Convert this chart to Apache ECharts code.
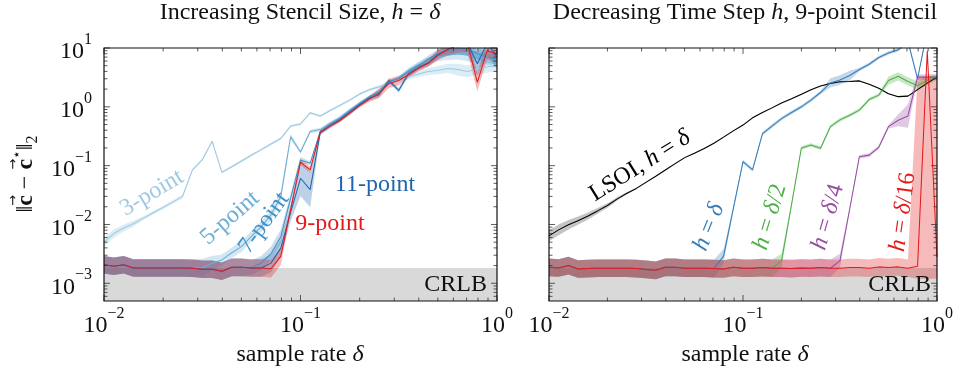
<!DOCTYPE html>
<html>
<head>
<meta charset="utf-8">
<script src="https://cdn.jsdelivr.net/npm/echarts@6/dist/echarts.min.js"></script>
<style>
  html, body { margin: 0; padding: 0; background: #fff; }
  #main { width: 956px; height: 371px; }
</style>
</head>
<body>
<div id="main"></div>
<script>
// sample rates (x)
var delta = [0.01, 0.0112, 0.0126, 0.0141, 0.0158, 0.0178, 0.02, 0.0224, 0.0251, 0.0282, 0.0316, 0.0355, 0.0398, 0.0447, 0.0501, 0.0562, 0.0631, 0.0708, 0.0794, 0.0891,
             0.1, 0.112, 0.126, 0.141, 0.158, 0.178, 0.2, 0.224, 0.251, 0.282, 0.316, 0.355, 0.398, 0.447, 0.501, 0.562, 0.631, 0.708, 0.794, 0.891, 1];

// left panel: increasing stencil size
var pt3 = [0.005, 0.007, 0.0087, 0.0103, 0.0127, 0.0158, 0.0195, 0.024, 0.03, 0.085, 0.125, 0.26, 0.077, 0.096, 0.12, 0.15, 0.187, 0.233, 0.29, 0.47,
           0.51, 0.79, 0.7, 0.86, 1.05, 1.3, 1.65, 1.95, 2.2, 2.5, 2.9, 3.2, 3.6, 4.0, 4.2, 4.5, 4.3, 4.0, 4.4, 4.8, 5.0];
var pt5 = [0.00207, 0.00195, 0.00207, 0.00182, 0.00182, 0.00182, 0.00182, 0.00182, 0.00182, 0.0018, 0.00185, 0.0022, 0.0025, 0.0033, 0.0042, 0.0063, 0.0092, 0.0146, 0.03, 0.31,
           0.17, 0.38, 0.41, 0.52, 0.65, 0.88, 1.15, 1.45, 1.85, 2.6, 3.1, 4.2, 5.2, 6.0, 7.0, 7.5, 8.0, 7.5, 7.0, 6.5, 6.0];
var pt7 = [0.00207, 0.00195, 0.00207, 0.00182, 0.00182, 0.00182, 0.00182, 0.00182, 0.00182, 0.0018, 0.00173, 0.00173, 0.0016, 0.00187, 0.00187, 0.00185, 0.0022, 0.0032, 0.0062, 0.028,
           0.125, 0.11, 0.38, 0.5, 0.62, 0.85, 1.12, 1.45, 1.8, 2.7, 3.0, 4.0, 5.0, 6.5, 8.0, 9.0, 10.0, 9.5, 8.0, 7.0, 6.5];
var pt9 = [0.00207, 0.00195, 0.00207, 0.00182, 0.00182, 0.00182, 0.00182, 0.00182, 0.00182, 0.0018, 0.00173, 0.00173, 0.0016, 0.00187, 0.00187, 0.00182, 0.00182, 0.00177, 0.0029, 0.018,
           0.115, 0.085, 0.37, 0.47, 0.58, 0.78, 1.05, 1.35, 1.7, 2.5, 2.8, 3.5, 4.5, 5.5, 7.5, 9.5, 11, 12, 2.6, 9, 8];
var pt11 = [0.00207, 0.00195, 0.00207, 0.00182, 0.00182, 0.00182, 0.00182, 0.00182, 0.00182, 0.0018, 0.00173, 0.00173, 0.0016, 0.00187, 0.00187, 0.00182, 0.00182, 0.0022, 0.004, 0.016,
            0.061, 0.039, 0.36, 0.47, 0.6, 0.8, 1.1, 1.4, 1.6, 2.8, 1.9, 3.7, 4.6, 5.6, 7.8, 9.5, 11, 12, 5.4, 12, 7];
// band half widths (decades)
var sp3 = [0.07, 0.07, 0.06, 0.05, 0.03, 0.03, 0.03, 0.03, 0.03, 0.02, 0.02, 0.02, 0.02, 0.02, 0.02, 0.02, 0.02, 0.02, 0.02, 0.02,
           0.02, 0.02, 0.02, 0.02, 0.02, 0.02, 0.02, 0.02, 0.03, 0.03, 0.03, 0.04, 0.05, 0.06, 0.07, 0.08, 0.1, 0.1, 0.1, 0.1, 0.1];
var sp5 = [0.15, 0.15, 0.15, 0.15, 0.15, 0.15, 0.15, 0.15, 0.15, 0.15, 0.15, 0.12, 0.09, 0.09, 0.09, 0.09, 0.09, 0.09, 0.08, 0.05,
           0.03, 0.03, 0.03, 0.03, 0.03, 0.03, 0.03, 0.03, 0.03, 0.03, 0.03, 0.04, 0.05, 0.06, 0.07, 0.08, 0.1, 0.1, 0.1, 0.1, 0.1];
var sp7 = [0.15, 0.15, 0.15, 0.15, 0.15, 0.15, 0.15, 0.15, 0.15, 0.15, 0.15, 0.15, 0.15, 0.15, 0.15, 0.12, 0.12, 0.12, 0.12, 0.08,
           0.05, 0.03, 0.03, 0.03, 0.03, 0.03, 0.03, 0.03, 0.03, 0.03, 0.03, 0.04, 0.05, 0.06, 0.07, 0.08, 0.1, 0.1, 0.1, 0.1, 0.1];
var sp9 = [0.15, 0.15, 0.15, 0.15, 0.15, 0.15, 0.15, 0.15, 0.15, 0.15, 0.15, 0.15, 0.15, 0.15, 0.15, 0.15, 0.15, 0.15, 0.15, 0.05,
           0.05, 0.05, 0.03, 0.03, 0.03, 0.03, 0.03, 0.05, 0.08, 0.08, 0.08, 0.05, 0.05, 0.06, 0.08, 0.1, 0.12, 0.15, 0.15, 0.15, 0.15];
var sp11 = [0.15, 0.15, 0.15, 0.15, 0.15, 0.15, 0.15, 0.15, 0.15, 0.15, 0.15, 0.15, 0.15, 0.15, 0.15, 0.15, 0.15, 0.15, 0.15, 0.15,
            0.3, 0.3, 0.04, 0.04, 0.04, 0.04, 0.04, 0.04, 0.04, 0.04, 0.04, 0.05, 0.05, 0.06, 0.08, 0.1, 0.15, 0.2, 0.2, 0.2, 0.2];

// right panel: decreasing time step, 9-point stencil
var lsoi = [0.0064, 0.0081, 0.0099, 0.0116, 0.0138, 0.017, 0.021, 0.027, 0.0337, 0.041, 0.052, 0.066, 0.0845, 0.108, 0.137, 0.163, 0.195, 0.24, 0.305, 0.39,
            0.49, 0.65, 0.8, 0.96, 1.16, 1.37, 1.63, 1.95, 2.26, 2.5, 2.66, 2.7, 2.76, 2.42, 2.07, 1.67, 1.49, 1.52, 1.96, 2.53, 3.2];
var hd1 = [0.00187, 0.00182, 0.002, 0.00175, 0.00178, 0.0018, 0.0018, 0.0018, 0.0018, 0.00178, 0.00172, 0.00166, 0.00187, 0.00187, 0.0018, 0.0018, 0.0018, 0.00178, 0.0029, 0.0184,
           0.117, 0.085, 0.35, 0.47, 0.63, 0.8, 1.0, 1.3, 1.75, 2.55, 2.85, 3.4, 4.3, 5.3, 6.9, 8.2, 9.3, 13, 3.0, 20, 20];
var hd2 = [0.00187, 0.00182, 0.002, 0.00175, 0.00178, 0.0018, 0.0018, 0.0018, 0.0018, 0.00178, 0.00172, 0.00166, 0.00187, 0.00187, 0.0018, 0.0018, 0.0018, 0.00178, 0.00175, 0.00187,
           0.0018, 0.0018, 0.00185, 0.0018, 0.0024, 0.022, 0.2, 0.224, 0.197, 0.46, 0.6, 0.72, 0.88, 1.33, 1.58, 2.8, 3.3, 2.7, 2.3, 2.8, 3.2];
var hd4 = [0.00187, 0.00182, 0.002, 0.00175, 0.00178, 0.0018, 0.0018, 0.0018, 0.0018, 0.00178, 0.00172, 0.00166, 0.00187, 0.00187, 0.0018, 0.0018, 0.0018, 0.00178, 0.00175, 0.00187,
           0.0018, 0.0018, 0.00185, 0.0018, 0.0018, 0.00178, 0.00182, 0.0018, 0.00185, 0.0018, 0.0024, 0.0185, 0.142, 0.151, 0.205, 0.46, 0.59, 0.7, 3.2, 3.2, 3.2];
var hd16 = [0.00187, 0.00182, 0.002, 0.00175, 0.00178, 0.0018, 0.0018, 0.0018, 0.0018, 0.00178, 0.00172, 0.00166, 0.00187, 0.00187, 0.0018, 0.0018, 0.0018, 0.00178, 0.00175, 0.00187,
            0.0018, 0.0018, 0.00185, 0.0018, 0.0018, 0.00178, 0.00182, 0.0018, 0.00185, 0.0018, 0.0018, 0.00185, 0.00185, 0.0018, 0.0019, 0.00185, 0.0019, 0.0018, 0.00195, 9.0, 0.0028];
var spL = [0.09, 0.09, 0.08, 0.07, 0.06, 0.05, 0.04, 0.03, 0.02, 0.01, 0.01, 0.01, 0.01, 0.01, 0.01, 0.01, 0.01, 0.01, 0.01, 0.01,
           0.01, 0.01, 0.01, 0.01, 0.01, 0.01, 0.01, 0.01, 0.01, 0.01, 0.01, 0.01, 0.01, 0.01, 0.01, 0.01, 0.01, 0.01, 0.01, 0.01, 0.01];
var spH1 = [0.15, 0.15, 0.15, 0.15, 0.15, 0.15, 0.15, 0.15, 0.15, 0.15, 0.15, 0.15, 0.15, 0.15, 0.15, 0.15, 0.15, 0.15, 0.12, 0.04,
            0.03, 0.03, 0.03, 0.03, 0.03, 0.03, 0.03, 0.03, 0.03, 0.08, 0.08, 0.08, 0.03, 0.03, 0.03, 0.03, 0.03, 0.03, 0.03, 0.03, 0.03];
var spH2 = [0.15, 0.15, 0.15, 0.15, 0.15, 0.15, 0.15, 0.15, 0.15, 0.15, 0.15, 0.15, 0.15, 0.15, 0.15, 0.15, 0.15, 0.15, 0.15, 0.15,
            0.15, 0.15, 0.15, 0.15, 0.12, 0.03, 0.03, 0.03, 0.03, 0.03, 0.03, 0.03, 0.03, 0.03, 0.03, 0.07, 0.07, 0.07, 0.07, 0.07, 0.05];
var spH4 = [0.15, 0.15, 0.15, 0.15, 0.15, 0.15, 0.15, 0.15, 0.15, 0.15, 0.15, 0.15, 0.15, 0.15, 0.15, 0.15, 0.15, 0.15, 0.15, 0.15,
            0.15, 0.15, 0.15, 0.15, 0.15, 0.15, 0.15, 0.15, 0.15, 0.15, 0.12, 0.03, 0.03, 0.03, 0.03, 0.03, 0.1, 0.2, 0.05, 0.05, 0.05];
var spH16 = [0.15, 0.15, 0.15, 0.15, 0.15, 0.15, 0.15, 0.15, 0.15, 0.15, 0.15, 0.15, 0.15, 0.15, 0.15, 0.15, 0.15, 0.15, 0.15, 0.15,
             0.15, 0.15, 0.15, 0.15, 0.15, 0.15, 0.15, 0.15, 0.15, 0.15, 0.15, 0.15, 0.15, 0.15, 0.15, 0.15, 0.15, 0.15, 0.15, 0.15, 0.15];
// wide spread of h = delta/16 at the last points: [index, low, high]
var band16 = [[38, 0.0012, 3.2], [39, 0.0012, 3.3], [40, 0.0012, 3.3]];

// Cramer-Rao lower bound
var crlbX = [0.01, 1];
var crlbY = [0.00182, 0.00182];

// ticks
var xMajor = [0.01, 0.1, 1];
var xMinor = [0.02, 0.03, 0.04, 0.05, 0.06, 0.07, 0.08, 0.09, 0.2, 0.3, 0.4, 0.5, 0.6, 0.7, 0.8, 0.9];
var yMajor = [0.001, 0.01, 0.1, 1, 10];
var yMinor = [0.0006, 0.0007, 0.0008, 0.0009, 0.002, 0.003, 0.004, 0.005, 0.006, 0.007, 0.008, 0.009,
              0.02, 0.03, 0.04, 0.05, 0.06, 0.07, 0.08, 0.09, 0.2, 0.3, 0.4, 0.5, 0.6, 0.7, 0.8, 0.9,
              2, 3, 4, 5, 6, 7, 8, 9];

var FONT = '"Liberation Serif", "DejaVu Serif", serif';
var FS = 24;

function pairs(xs, ys) {
  return xs.map(function (x, i) { return [x, ys[i]]; });
}

function lineSeries(k, ys, color, w) {
  return {
    type: 'line', xAxisIndex: k, yAxisIndex: k, data: pairs(delta, ys),
    showSymbol: false, silent: true, z: 4, clip: true,
    lineStyle: { color: color, width: w || 1.05 }
  };
}

function bandSeries(k, ys, sp, color, alpha, extra) {
  var lo = ys.map(function (v, i) { return v / Math.pow(10, sp[i]); });
  var hi = ys.map(function (v, i) { return v * Math.pow(10, sp[i]); });
  (extra || []).forEach(function (e) { lo[e[0]] = e[1]; hi[e[0]] = e[2]; });
  return {
    type: 'custom', xAxisIndex: k, yAxisIndex: k, silent: true, z: 3, clip: true,
    data: [[0.1, 0.01]],
    renderItem: function (params, api) {
      var up = [], dn = [];
      for (var i = 0; i < delta.length; i++) {
        up.push(api.coord([delta[i], hi[i]]));
        dn.unshift(api.coord([delta[i], lo[i]]));
      }
      return { type: 'polygon', shape: { points: up.concat(dn) }, style: { fill: color, opacity: alpha } };
    }
  };
}

function crlbSeries(k) {
  return {
    type: 'line', xAxisIndex: k, yAxisIndex: k, data: pairs(crlbX, crlbY),
    showSymbol: false, silent: true, z: 1,
    lineStyle: { width: 0 },
    areaStyle: { color: '#d9d9d9', opacity: 1, origin: 'start' }
  };
}

function frameSeries(k) {
  return {
    type: 'custom', xAxisIndex: k, yAxisIndex: k, silent: true, z: 6,
    data: [[0.1, 0.01]],
    renderItem: function (params, api) {
      var cs = params.coordSys;
      var x0 = cs.x, y0 = cs.y, x1 = cs.x + cs.width, y1 = cs.y + cs.height;
      var kids = [];
      function seg(a, b, c, d) {
        kids.push({ type: 'line', shape: { x1: a, y1: b, x2: c, y2: d }, style: { stroke: '#333', lineWidth: 0.8 } });
      }
      function xt(v, len) {
        var px = api.coord([v, 1])[0];
        seg(px, y1, px, y1 - len); seg(px, y0, px, y0 + len);
      }
      function yt(v, len) {
        var py = api.coord([0.1, v])[1];
        if (py < y0 || py > y1) return;
        seg(x0, py, x0 + len, py); seg(x1, py, x1 - len, py);
      }
      xMajor.forEach(function (v) { xt(v, 6); });
      xMinor.forEach(function (v) { xt(v, 3.5); });
      yMajor.forEach(function (v) { yt(v, 6); });
      yMinor.forEach(function (v) { yt(v, 3.5); });
      kids.push({ type: 'rect', shape: { x: x0, y: y0, width: cs.width, height: cs.height },
                  style: { fill: 'none', stroke: '#111', lineWidth: 1.2 } });
      return { type: 'group', children: kids };
    }
  };
}

function expLabel(v) {
  var l = Math.log10(v), e = Math.round(l);
  if (Math.abs(l - e) > 1e-6) return '';
  return '{b|10}{s|' + (e < 0 ? '\u2212' + (-e) : e) + '}';
}
var expRich = {
  b: { fontFamily: FONT, fontSize: FS, color: '#111', padding: [8, 0, 0, 0] },
  s: { fontFamily: FONT, fontSize: 16, color: '#111', verticalAlign: 'top' }
};

function xAxisCfg(k) {
  return {
    type: 'log', logBase: 10, gridIndex: k, min: 0.01, max: 1,
    axisLine: { show: false }, axisTick: { show: false }, splitLine: { show: false },
    axisLabel: { formatter: expLabel, rich: expRich, margin: 5, showMinLabel: true, showMaxLabel: true }
  };
}
function yAxisCfg(k, labels) {
  return {
    type: 'log', logBase: 10, gridIndex: k, min: 0.0005, max: 10,
    axisLine: { show: false }, axisTick: { show: false }, splitLine: { show: false },
    axisLabel: { show: labels, formatter: expLabel, rich: expRich, margin: 12, showMinLabel: true, showMaxLabel: true }
  };
}

function txt(x, y, text, color, rot, rich, size, align) {
  return {
    type: 'text', x: x, y: y, rotation: (rot || 0) * Math.PI / 180, z: 10, silent: true,
    style: {
      text: text, fill: color, font: (size || FS) + 'px ' + FONT,
      textAlign: align || 'center', textVerticalAlign: 'middle',
      align: align || 'center', verticalAlign: 'middle',
      rich: rich || {}
    }
  };
}
function mathRich(color, size) {
  return { i: { fontFamily: FONT, fontSize: size || FS, fontStyle: 'italic', fill: color, color: color } };
}

// y axis name: || c - c* ||_2 with vector arrows, laid out piece by piece
var measureCtx = document.createElement('canvas').getContext('2d');
function yName(cx, cy) {
  var reg = FS + 'px ' + FONT, bold = 'bold ' + FS + 'px ' + FONT;
  var parts = [
    { t: '\u2016', f: reg, dy: 0 },
    { t: 'c', f: bold, dy: 0, arrow: true },
    { t: ' \u2212 ', f: reg, dy: 0 },
    { t: 'c', f: bold, dy: 0, arrow: true },
    { t: '\u22c6', f: '14px "DejaVu Sans", sans-serif', dy: -9 },
    { t: '\u2016', f: reg, dy: 0 },
    { t: '2', f: '16px ' + FONT, dy: 7 }
  ];
  var total = 0;
  parts.forEach(function (p) { measureCtx.font = p.f; p.w = measureCtx.measureText(p.t).width; total += p.w; });
  var x = -total / 2, kids = [];
  parts.forEach(function (p) {
    kids.push({ type: 'text', x: x, y: p.dy, style: { text: p.t, font: p.f, fill: '#111', textAlign: 'left', align: 'left', textVerticalAlign: 'middle', verticalAlign: 'middle' } });
    if (p.arrow) {
      kids.push({ type: 'text', x: x + p.w / 2, y: -12, style: { text: '\u2192', font: '13px "DejaVu Sans", sans-serif', fill: '#111', textAlign: 'center', align: 'center', textVerticalAlign: 'middle', verticalAlign: 'middle' } });
    }
    x += p.w;
  });
  return { type: 'group', x: cx, y: cy, rotation: Math.PI / 2, z: 10, silent: true, children: kids };
}

var chart = echarts.init(document.getElementById('main'), null, { renderer: 'canvas' });
chart.setOption({
  animation: false,
  backgroundColor: '#fff',
  grid: [
    { left: 104, top: 48, width: 393, height: 253 },
    { left: 549, top: 48, width: 392, height: 253 }
  ],
  xAxis: [xAxisCfg(0), xAxisCfg(1)],
  yAxis: [yAxisCfg(0, true), yAxisCfg(1, false)],
  series: [
    crlbSeries(0), crlbSeries(1),
    bandSeries(0, pt3, sp3, '#9ecae1', 0.35),
    bandSeries(0, pt5, sp5, '#6baed6', 0.3),
    bandSeries(0, pt7, sp7, '#4292c6', 0.3),
    bandSeries(0, pt11, sp11, '#2166ac', 0.3),
    bandSeries(0, pt9, sp9, '#e41a1c', 0.3),
    lineSeries(0, pt3, '#9ecae1'),
    lineSeries(0, pt5, '#6baed6'),
    lineSeries(0, pt7, '#4292c6'),
    lineSeries(0, pt11, '#2166ac'),
    lineSeries(0, pt9, '#e41a1c'),
    bandSeries(1, lsoi, spL, '#555555', 0.35),
    bandSeries(1, hd1, spH1, '#377eb8', 0.3),
    bandSeries(1, hd2, spH2, '#4daf4a', 0.3),
    bandSeries(1, hd4, spH4, '#984ea3', 0.3),
    bandSeries(1, hd16, spH16, '#e41a1c', 0.3, band16),
    lineSeries(1, lsoi, '#000000'),
    lineSeries(1, hd1, '#377eb8'),
    lineSeries(1, hd2, '#4daf4a'),
    lineSeries(1, hd4, '#984ea3'),
    lineSeries(1, hd16, '#e41a1c'),
    frameSeries(0), frameSeries(1)
  ],
  graphic: [
    txt(300, 13, 'Increasing Stencil Size, {i|h} = {i|\u03b4}', '#111', 0, mathRich('#111')),
    txt(745, 13, 'Decreasing Time Step {i|h}, 9-point Stencil', '#111', 0, mathRich('#111')),
    txt(300, 355, 'sample rate {i|\u03b4}', '#111', 0, mathRich('#111')),
    txt(745, 355, 'sample rate {i|\u03b4}', '#111', 0, mathRich('#111')),
    yName(26, 174),
    txt(487, 285, 'CRLB', '#111', 0, null, FS, 'right'),
    txt(931, 285, 'CRLB', '#111', 0, null, FS, 'right'),
    txt(152, 193, '3-point', '#9ecae1', 31),
    txt(230, 218, '5-point', '#6baed6', 41),
    txt(264, 223, '7-point', '#4292c6', 54),
    txt(330, 224, '9-point', '#e41a1c', 0),
    txt(375, 185, '11-point', '#2166ac', 0),
    txt(640, 166, 'LSOI, {i|h} = {i|\u03b4}', '#000', 32, mathRich('#000')),
    txt(709, 227, '{i|h} = {i|\u03b4}', '#377eb8', 68, mathRich('#377eb8')),
    txt(770, 217, '{i|h} = {i|\u03b4}/2', '#4daf4a', 73, mathRich('#4daf4a')),
    txt(828, 217, '{i|h} = {i|\u03b4}/4', '#984ea3', 74, mathRich('#984ea3')),
    txt(903, 212, '{i|h} = {i|\u03b4}/16', '#e41a1c', 82, mathRich('#e41a1c'))
  ]
});
</script>
</body>
</html>
